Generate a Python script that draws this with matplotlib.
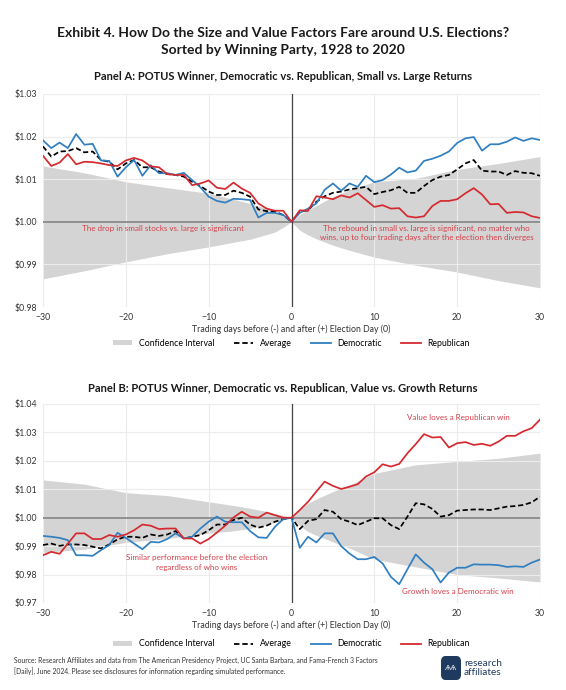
import numpy as np
import matplotlib.pyplot as plt
from matplotlib.patches import Patch, FancyBboxPatch
from matplotlib.lines import Line2D
from matplotlib.ticker import FuncFormatter

plt.rcParams['font.family'] = ['Lato', 'DejaVu Sans']

days = np.arange(-30, 31)

# Panel A: small vs. large
dem_a = [1.0191, 1.0173, 1.0186, 1.0173, 1.0206, 1.0181, 1.0183, 1.0144, 1.0143, 1.0106,
         1.0128, 1.0145, 1.0108, 1.0133, 1.0114, 1.0114, 1.0110, 1.0115, 1.0098, 1.0081,
         1.0059, 1.0049, 1.0045, 1.0054, 1.0053, 1.0051, 1.0010, 1.0021, 1.0021, 1.0016,
         1.0000,
         1.0021, 1.0031, 1.0043, 1.0075, 1.0090, 1.0073, 1.0090, 1.0082, 1.0108, 1.0093,
         1.0098, 1.0111, 1.0127, 1.0116, 1.0120, 1.0143, 1.0148, 1.0155, 1.0165, 1.0185,
         1.0196, 1.0199, 1.0167, 1.0182, 1.0182, 1.0188, 1.0198, 1.0190, 1.0196, 1.0192]
rep_a = [1.0155, 1.0131, 1.0139, 1.0159, 1.0135, 1.0141, 1.0140, 1.0137, 1.0133, 1.0131,
         1.0144, 1.0150, 1.0144, 1.0130, 1.0128, 1.0112, 1.0110, 1.0110, 1.0086, 1.0090,
         1.0097, 1.0080, 1.0077, 1.0092, 1.0078, 1.0068, 1.0043, 1.0031, 1.0026, 1.0026,
         1.0000,
         1.0027, 1.0026, 1.0060, 1.0057, 1.0053, 1.0062, 1.0057, 1.0067, 1.0051, 1.0035,
         1.0039, 1.0031, 1.0032, 1.0013, 1.0010, 1.0013, 1.0037, 1.0049, 1.0049, 1.0053,
         1.0067, 1.0079, 1.0064, 1.0041, 1.0042, 1.0021, 1.0023, 1.0022, 1.0013, 1.0009]
avg_a = [1.0177, 1.0153, 1.0165, 1.0166, 1.0173, 1.0163, 1.0165, 1.0145, 1.0141, 1.0123,
         1.0137, 1.0145, 1.0128, 1.0128, 1.0118, 1.0112, 1.0110, 1.0106, 1.0094, 1.0084,
         1.0071, 1.0063, 1.0063, 1.0073, 1.0068, 1.0059, 1.0029, 1.0025, 1.0024, 1.0016,
         1.0000,
         1.0024, 1.0027, 1.0047, 1.0060, 1.0068, 1.0071, 1.0076, 1.0079, 1.0082, 1.0065,
         1.0070, 1.0074, 1.0082, 1.0068, 1.0068, 1.0084, 1.0098, 1.0106, 1.0110, 1.0123,
         1.0137, 1.0145, 1.0120, 1.0118, 1.0118, 1.0110, 1.0119, 1.0115, 1.0114, 1.0108]
band_days_a = [-30, -25, -20, -15, -10, -7, -5, -3, -2, -1, 0, 1, 2, 3, 5, 7, 10, 15, 20, 25, 30]
band_hi_a = [1.0131, 1.0115, 1.0094, 1.0080, 1.0067, 1.0053, 1.0043, 1.0031, 1.0024, 1.0013, 1.0000,
             1.0017, 1.0028, 1.0038, 1.0059, 1.0075, 1.0094, 1.0102, 1.0123, 1.0137, 1.0153]
band_lo_a = [0.9866, 0.9885, 0.9906, 0.9925, 0.9941, 0.9952, 0.9959, 0.9970, 0.9976, 0.9987, 1.0000,
             0.9980, 0.9969, 0.9960, 0.9945, 0.9933, 0.9917, 0.9898, 0.9882, 0.9862, 0.9845]

# Panel B: value vs. growth
dem_b = [0.9936, 0.9933, 0.9929, 0.9921, 0.9868, 0.9868, 0.9866, 0.9886, 0.9904, 0.9947,
         0.9929, 0.9909, 0.9889, 0.9915, 0.9913, 0.9925, 0.9945, 0.9927, 0.9933, 0.9962,
         0.9986, 1.0004, 0.9986, 0.9984, 0.9984, 0.9953, 0.9931, 0.9929, 0.9968, 0.9995,
         1.0000,
         0.9894, 0.9933, 0.9913, 0.9945, 0.9945, 0.9900, 0.9874, 0.9854, 0.9854, 0.9862,
         0.9839, 0.9792, 0.9766, 0.9819, 0.9871, 0.9842, 0.9819, 0.9772, 0.9807, 0.9824,
         0.9824, 0.9836, 0.9835, 0.9835, 0.9833, 0.9827, 0.9829, 0.9827, 0.9842, 0.9853]
rep_b = [0.9868, 0.9880, 0.9873, 0.9909, 0.9945, 0.9945, 0.9925, 0.9925, 0.9939, 0.9933,
         0.9941, 0.9956, 0.9976, 0.9972, 0.9960, 0.9962, 0.9962, 0.9927, 0.9927, 0.9909,
         0.9925, 0.9948, 0.9972, 1.0001, 1.0021, 1.0004, 1.0000, 1.0018, 1.0009, 1.0000,
         1.0000,
         1.0027, 1.0056, 1.0092, 1.0127, 1.0112, 1.0101, 1.0109, 1.0118, 1.0145, 1.0160,
         1.0188, 1.0180, 1.0189, 1.0227, 1.0259, 1.0294, 1.0282, 1.0284, 1.0247, 1.0262,
         1.0266, 1.0256, 1.0260, 1.0253, 1.0268, 1.0288, 1.0288, 1.0304, 1.0315, 1.0345]
avg_b = [0.9904, 0.9909, 0.9901, 0.9906, 0.9906, 0.9904, 0.9898, 0.9892, 0.9906, 0.9924,
         0.9933, 0.9933, 0.9929, 0.9941, 0.9936, 0.9941, 0.9953, 0.9927, 0.9933, 0.9939,
         0.9956, 0.9976, 0.9976, 0.9992, 1.0000, 0.9976, 0.9965, 0.9972, 0.9986, 0.9995,
         1.0000,
         0.9960, 0.9989, 0.9995, 1.0027, 1.0021, 0.9995, 0.9986, 0.9974, 0.9986, 0.9998,
         0.9998, 0.9974, 0.9960, 1.0004, 1.0051, 1.0047, 1.0031, 1.0004, 1.0009, 1.0025,
         1.0027, 1.0029, 1.0029, 1.0027, 1.0033, 1.0039, 1.0041, 1.0045, 1.0054, 1.0074]
band_days_b = [-30, -25, -20, -15, -10, -7, -5, -3, -2, -1, 0, 1, 2, 3, 5, 7, 10, 15, 20, 25, 30]
band_hi_b = [1.0133, 1.0118, 1.0088, 1.0078, 1.0056, 1.0043, 1.0033, 1.0022, 1.0015, 1.0008, 1.0000,
             1.0030, 1.0051, 1.0066, 1.0092, 1.0115, 1.0156, 1.0186, 1.0198, 1.0209, 1.0227]
band_lo_b = [0.9878, 0.9889, 0.9913, 0.9927, 0.9945, 0.9954, 0.9962, 0.9975, 0.9984, 0.9992, 1.0000,
             0.9972, 0.9951, 0.9938, 0.9915, 0.9893, 0.9854, 0.9827, 0.9800, 0.9788, 0.9774]

BLUE = '#2f7fc1'
RED = '#d42a2f'
BAND = '#d4d4d4'
NOTE = '#d4404a'

W, H = 566, 690
fig = plt.figure(figsize=(W / 100, H / 100), dpi=100)


def box(x0, y0, x1, y1):
    return [x0 / W, 1 - y1 / H, (x1 - x0) / W, (y1 - y0) / H]


def panel(ax, dem, rep, avg, bd, bhi, blo, ylim, leg_y):
    ax.fill_between(bd, blo, bhi, color=BAND, lw=0, zorder=1)
    ax.axhline(1.0, color='#8a8a8a', lw=1.3, zorder=2)
    ax.axvline(0, color='#444444', lw=0.9, zorder=2)
    ax.plot(days, avg, color='black', ls=(0, (3, 1.6)), lw=1.25, zorder=3)
    ax.plot(days, dem, color=BLUE, lw=1.25, zorder=4)
    ax.plot(days, rep, color=RED, lw=1.25, zorder=5)
    ax.set_xlim(-30, 30)
    ax.set_ylim(*ylim)
    ax.set_xticks(range(-30, 31, 10))
    ax.set_yticks(np.arange(ylim[0], ylim[1] + 0.001, 0.01))
    ax.yaxis.set_major_formatter(FuncFormatter(lambda v, p: f'${v:.2f}'))
    ax.grid(True, color='#ececec', lw=0.8, zorder=0)
    for s in ax.spines.values():
        s.set_visible(False)
    ax.tick_params(length=0, labelsize=6.3, colors='#333333', pad=4)
    ax.set_xlabel('Trading days before (-) and after (+) Election Day (0)', fontsize=6.3,
                  color='#333333', labelpad=2)
    handles = [Patch(color=BAND, lw=0), Line2D([], [], color='black', ls=(0, (3, 1.6)), lw=1.3),
               Line2D([], [], color=BLUE, lw=1.3), Line2D([], [], color=RED, lw=1.3)]
    ax.legend(handles, ['Confidence Interval', 'Average', 'Democratic', 'Republican'],
              loc='center', bbox_to_anchor=(0.5, leg_y), ncol=4, frameon=False,
              fontsize=6.3, handlelength=2.2, columnspacing=2.2, handleheight=0.6)


ax_a = fig.add_axes(box(43, 94, 540, 307))
panel(ax_a, dem_a, rep_a, avg_a, band_days_a, band_hi_a, band_lo_a, (0.98, 1.03), -36 / 213)
ax_a.text(-15.5, 0.9984, 'The drop in small stocks vs. large is significant', color=NOTE,
          fontsize=5.8, ha='center', va='center', zorder=6)
ax_a.text(16.3, 0.9974, 'The rebound in small vs. large is significant, no matter who\n'
          'wins, up to four trading days after the election then diverges', color=NOTE,
          fontsize=5.8, ha='center', va='center', linespacing=1.4, zorder=6)

ax_b = fig.add_axes(box(43, 404, 540, 603))
panel(ax_b, dem_b, rep_b, avg_b, band_days_b, band_hi_b, band_lo_b, (0.97, 1.04), -41 / 199)
ax_b.text(-11.4, 0.9842, 'Similar performance before the election\nregardless of who wins',
          color=NOTE, fontsize=5.8, ha='center', va='center', linespacing=1.4, zorder=6)
ax_b.text(20.1, 1.0351, 'Value loves a Republican win', color=NOTE, fontsize=5.8,
          ha='center', va='center', zorder=6)
ax_b.text(20.1, 0.9742, 'Growth loves a Democratic win', color=NOTE, fontsize=5.8,
          ha='center', va='center', zorder=6)

fig.text(0.5, 1 - 33 / H, 'Exhibit 4. How Do the Size and Value Factors Fare around U.S. Elections?',
         ha='center', va='center', fontsize=10.0, fontweight='bold', color='#1a1a1a')
fig.text(0.5, 1 - 50 / H, 'Sorted by Winning Party, 1928 to 2020',
         ha='center', va='center', fontsize=10.0, fontweight='bold', color='#1a1a1a')
fig.text(0.5, 1 - 76 / H, 'Panel A: POTUS Winner, Democratic vs. Republican, Small vs. Large Returns',
         ha='center', va='center', fontsize=8.0, fontweight='bold', color='#1a1a1a')
fig.text(0.5, 1 - 388 / H, 'Panel B: POTUS Winner, Democratic vs. Republican, Value vs. Growth Returns',
         ha='center', va='center', fontsize=8.0, fontweight='bold', color='#1a1a1a')

fig.text(14 / W, 1 - 666 / H, 'Source: Research Affiliates and data from The American Presidency Project, '
         'UC Santa Barbara, and Fama-French 3 Factors\n[Daily], June 2024. Please see disclosures for '
         'information regarding simulated performance.', ha='left', va='center', fontsize=4.9,
         color='#333333', linespacing=1.5)

# logo
logo = FancyBboxPatch((441 / W, 1 - 680 / H), 20 / W, 24 / H, boxstyle='round,pad=0,rounding_size=0.008',
                      transform=fig.transFigure, facecolor='#1f3a5f', edgecolor='none')
fig.patches.append(logo)
fig.text(451 / W, 1 - 668 / H, 'ѦѦ', ha='center', va='center', fontsize=5, color='white',
         family=['DejaVu Sans'])
fig.text(464 / W, 1 - 668 / H, 'research\naffiliates', ha='left', va='center', fontsize=7.2,
         color='#1f3a5f', linespacing=0.9)

fig.savefig('out.png', dpi=100)
